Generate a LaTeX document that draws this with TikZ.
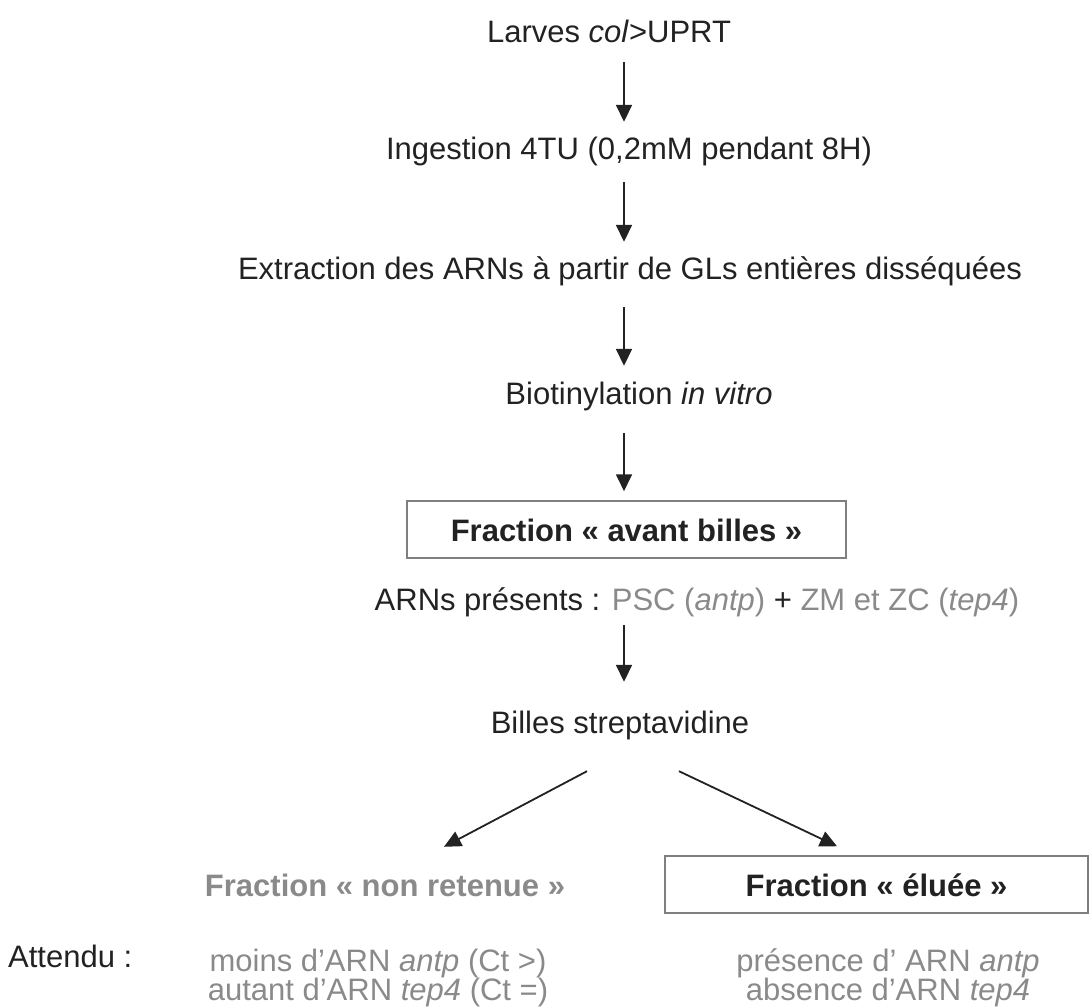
\documentclass[tikz,border=0pt]{standalone}
\usepackage{fontspec}
\setmainfont{Liberation Sans}
\usetikzlibrary{arrows.meta,calc}
\definecolor{txt}{HTML}{222222}
\definecolor{gry}{HTML}{8A8A8A}
\definecolor{boxc}{HTML}{7F7F7F}
\begin{document}
\begin{tikzpicture}[x=1pt,y=-1pt,
  lbl/.style={anchor=base,inner sep=0pt,text height=23pt,text depth=7pt,font=\fontsize{31}{31}\selectfont,text=txt},
  boldlbl/.style={lbl,font=\fontsize{31}{31}\selectfont\bfseries},
  arr/.style={line width=1.8pt,draw=txt,-{Triangle[width=16pt,length=17pt]}},
  fbox/.style={draw=boxc,line width=1.5pt,inner sep=0pt,text height=23pt,text depth=0pt,font=\fontsize{31}{31}\selectfont\bfseries,text=txt}]
\useasboundingbox (0,0) rectangle (1090,1008);
\node[lbl] (larves) at (609,43) {Larves \textit{col}>UPRT};
\node[lbl] (ingest) at (629,160) {Ingestion 4TU (0,2mM pendant 8H)};
\node[lbl] (extr) at (630,280) {Extraction des ARNs à partir de GLs entières disséquées};
\node[lbl] (biot) at (639,404) {Biotinylation \textit{in vitro}};
\node[fbox,minimum width=439pt,minimum height=57pt] (avant) at (626.5,529.5) {Fraction « avant billes »};
\node[lbl] (arns) at (697,610) {ARNs présents : \textcolor{gry}{PSC (\textit{antp})} + \textcolor{gry}{ZM et ZC (\textit{tep4})}};
\node[lbl] (billes) at (620,733) {Billes streptavidine};
\node[boldlbl,text=gry] (nonret) at (385,896) {Fraction « non retenue »};
\node[fbox,minimum width=423pt,minimum height=57pt] (eluee) at (876.5,884.5) {Fraction « éluée »};
\node[lbl,anchor=base west] (attendu) at (8,967) {Attendu :};
\node[lbl,text=gry] (moins) at (378,971) {moins d’ARN \textit{antp} (Ct >)};
\node[lbl,text=gry] (autant) at (378,1000) {autant d’ARN \textit{tep4} (Ct =)};
\node[lbl,text=gry] (presence) at (888,971) {présence d’ ARN \textit{antp}};
\node[lbl,text=gry] (absence) at (888,1000) {absence d’ARN \textit{tep4}};
\coordinate (ax) at (624,0);
\draw[arr,shorten <=12pt,shorten >=15pt] (larves.south -| ax) -- (ingest.north -| ax);
\draw[arr,shorten <=15pt,shorten >=15pt] (ingest.south -| ax) -- (extr.north -| ax);
\draw[arr,shorten <=20pt,shorten >=15pt] (extr.south -| ax) -- (biot.north -| ax);
\draw[arr,shorten <=22pt,shorten >=9pt] (biot.south -| ax) -- (avant.north -| ax);
\draw[arr,shorten <=8pt,shorten >=28pt] (arns.south -| ax) -- (billes.north -| ax);
\draw[arr] ($(billes.south)+(-33,31)$) -- ($(nonret.north)+(59,-26)$);
\draw[arr] ($(billes.south)+(59,31)$) -- ($(eluee.north)+(-39.5,-9)$);
\end{tikzpicture}
\end{document}
